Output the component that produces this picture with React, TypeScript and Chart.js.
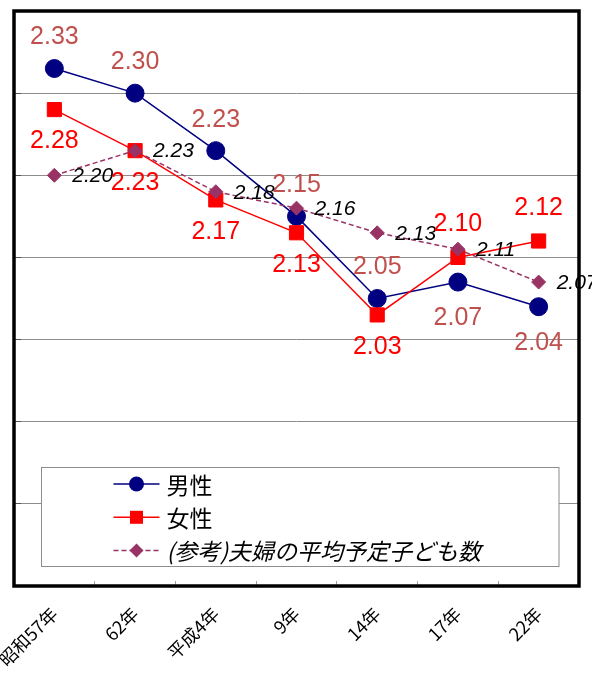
import React, { useEffect, useRef } from "react";
import { Chart, registerables } from "chart.js";

Chart.register(...registerables);

// Survey years
const categories = ["昭和57年", "62年", "平成4年", "9年", "14年", "17年", "22年"];

// Ideal number of children, by sex, plus couples' planned number for reference
const maleValues = [2.33, 2.3, 2.23, 2.15, 2.05, 2.07, 2.04];
const femaleValues = [2.28, 2.23, 2.17, 2.13, 2.03, 2.1, 2.12];
const plannedValues = [2.2, 2.23, 2.18, 2.16, 2.13, 2.11, 2.07];

const seriesNames = ["男性", "女性", "(参考)夫婦の平均予定子ども数"];

// Value axis range and gridline step
const yMin = 1.7;
const yMax = 2.4;
const yStep = 0.1;

// Side of the point on which each value label is written
const malePlacement = ["above", "above", "above", "above", "above", "below", "below"];
const femalePlacement = ["below", "below", "below", "below", "below", "above", "above"];
const plannedPlacement = ["right", "right", "right", "right", "right", "right", "right"];

const NUM_FONT = '"Liberation Sans", Arial, sans-serif';
const JP_FONT = '"Noto Sans CJK JP", "Noto Sans", sans-serif';

type LabelSpec = {
  color: string;
  font: string;
  placement: string[];
  above: number;
  below: number;
  right: number;
};

const valueLabelsPlugin = {
  id: "valueLabels",
  afterDatasetsDraw(chart: any) {
    const ctx = chart.ctx as CanvasRenderingContext2D;
    // male first, then the reference series, then female on top
    const drawOrder = [0, 2, 1];
    ctx.save();
    for (const di of drawOrder) {
      const ds = chart.data.datasets[di];
      const spec: LabelSpec = ds.valueLabel;
      if (!spec) continue;
      const meta = chart.getDatasetMeta(di);
      meta.data.forEach((pt: any, i: number) => {
        const v = ds.data[i] as number;
        const text = v.toFixed(2);
        const where = spec.placement[i];
        ctx.font = spec.font;
        ctx.fillStyle = spec.color;
        ctx.textBaseline = "middle";
        if (where === "right") {
          ctx.textAlign = "left";
          ctx.fillText(text, pt.x + spec.right, pt.y + 1);
        } else if (where === "above") {
          ctx.textAlign = "center";
          ctx.fillText(text, pt.x, pt.y - spec.above);
        } else {
          ctx.textAlign = "center";
          ctx.fillText(text, pt.x, pt.y + spec.below);
        }
      });
    }
    ctx.restore();
  },
};

function drawMarker(ctx: CanvasRenderingContext2D, style: string, x: number, y: number, r: number, color: string) {
  ctx.fillStyle = color;
  ctx.beginPath();
  if (style === "circle") {
    ctx.arc(x, y, r, 0, Math.PI * 2);
  } else if (style === "rect") {
    ctx.rect(x - r, y - r, r * 2, r * 2);
  } else {
    ctx.moveTo(x, y - r);
    ctx.lineTo(x + r, y);
    ctx.lineTo(x, y + r);
    ctx.lineTo(x - r, y);
    ctx.closePath();
  }
  ctx.fill();
}

const frameAndLegendPlugin = {
  id: "frameAndLegend",
  afterDraw(chart: any) {
    const ctx = chart.ctx as CanvasRenderingContext2D;
    const a = chart.chartArea;
    ctx.save();

    // heavy plot frame
    ctx.strokeStyle = "#000000";
    ctx.lineWidth = 3.5;
    ctx.strokeRect(a.left, a.top, a.right - a.left, a.bottom - a.top);

    // legend box inside the plot
    const bx = a.left + 27.5;
    const by = a.bottom - 118.5;
    const bw = a.right - 20 - bx;
    const bh = 99;
    ctx.fillStyle = "#ffffff";
    ctx.fillRect(bx, by, bw, bh);
    ctx.strokeStyle = "#8c8c8c";
    ctx.lineWidth = 1;
    ctx.strokeRect(bx, by, bw, bh);

    const markerSizes = [7.5, 6.5, 7];
    chart.data.datasets.forEach((ds: any, i: number) => {
      const rowY = by + 16.5 + i * 33.3;
      const x0 = bx + 72;
      const x1 = bx + 118;
      ctx.strokeStyle = ds.borderColor;
      ctx.lineWidth = 1.5;
      ctx.setLineDash(ds.borderDash || []);
      ctx.beginPath();
      ctx.moveTo(x0, rowY);
      ctx.lineTo(x1, rowY);
      ctx.stroke();
      ctx.setLineDash([]);
      drawMarker(ctx, ds.pointStyle, (x0 + x1) / 2, rowY, markerSizes[i], ds.pointBackgroundColor);
      ctx.fillStyle = "#000000";
      ctx.font = (i === 2 ? "italic " : "") + "23px " + JP_FONT;
      ctx.textAlign = "left";
      ctx.textBaseline = "middle";
      ctx.fillText(ds.label, bx + 125, rowY + 1);
    });

    ctx.restore();
  },
};

export default function App() {
  const canvasRef = useRef<HTMLCanvasElement | null>(null);

  useEffect(() => {
    if (!canvasRef.current) return;
    const navy = "#000080";
    const red = "#FF0000";
    const plum = "#993366";

    const chart = new Chart(canvasRef.current, {
      type: "line",
      data: {
        labels: categories,
        datasets: [
          {
            label: seriesNames[0],
            data: maleValues,
            borderColor: navy,
            backgroundColor: navy,
            pointBackgroundColor: navy,
            pointBorderColor: navy,
            pointStyle: "circle",
            pointRadius: 9,
            pointBorderWidth: 1,
            borderWidth: 1.5,
            order: 2,
            valueLabel: {
              color: "#C0504D",
              font: "25px " + NUM_FONT,
              placement: malePlacement,
              above: 31,
              below: 36,
              right: 0,
            },
          } as any,
          {
            label: seriesNames[1],
            data: femaleValues,
            borderColor: red,
            backgroundColor: red,
            pointBackgroundColor: red,
            pointBorderColor: red,
            pointStyle: "rect",
            pointRadius: 10,
            pointBorderWidth: 1,
            borderWidth: 1.5,
            order: 1,
            valueLabel: {
              color: "#FF0000",
              font: "25px " + NUM_FONT,
              placement: femalePlacement,
              above: 33,
              below: 32,
              right: 0,
            },
          } as any,
          {
            label: seriesNames[2],
            data: plannedValues,
            borderColor: plum,
            backgroundColor: plum,
            pointBackgroundColor: plum,
            pointBorderColor: plum,
            pointStyle: "rectRot",
            pointRadius: 7,
            pointBorderWidth: 1,
            borderWidth: 1.5,
            borderDash: [5, 3],
            order: 0,
            valueLabel: {
              color: "#000000",
              font: "italic 21px " + NUM_FONT,
              placement: plannedPlacement,
              above: 0,
              below: 0,
              right: 18,
            },
          } as any,
        ],
      },
      options: {
        responsive: false,
        animation: false,
        devicePixelRatio: 1,
        layout: { padding: { left: 14, top: 11, right: 13, bottom: 0 } },
        plugins: {
          legend: { display: false },
          tooltip: { enabled: false },
        },
        scales: {
          x: {
            type: "category",
            offset: true,
            border: { display: false },
            grid: {
              offset: true,
              drawOnChartArea: false,
              drawTicks: true,
              tickLength: -5,
              tickColor: "#a0a0a0",
            },
            ticks: {
              minRotation: 45,
              maxRotation: 45,
              autoSkip: false,
              color: "#000000",
              padding: 22,
              font: { family: JP_FONT, size: 18 },
            },
            afterFit(scale: any) {
              scale.height = 89;
              scale.paddingLeft = 0;
              scale.paddingRight = 0;
            },
          },
          y: {
            min: yMin,
            max: yMax,
            border: { display: false },
            grid: {
              color: "#8c8c8c",
              lineWidth: 1,
              drawTicks: true,
              tickLength: -7,
              tickColor: "#555555",
            },
            ticks: { display: false, stepSize: yStep },
            afterFit(scale: any) {
              scale.width = 0;
            },
          },
        },
      },
      plugins: [valueLabelsPlugin, frameAndLegendPlugin],
    } as any);

    return () => chart.destroy();
  }, []);

  return (
    <div style={{ position: "absolute", left: 0, top: 0, width: 592, height: 675, background: "#ffffff" }}>
      <canvas ref={canvasRef} width={592} height={675} style={{ display: "block", width: 592, height: 675 }} />
    </div>
  );
}
